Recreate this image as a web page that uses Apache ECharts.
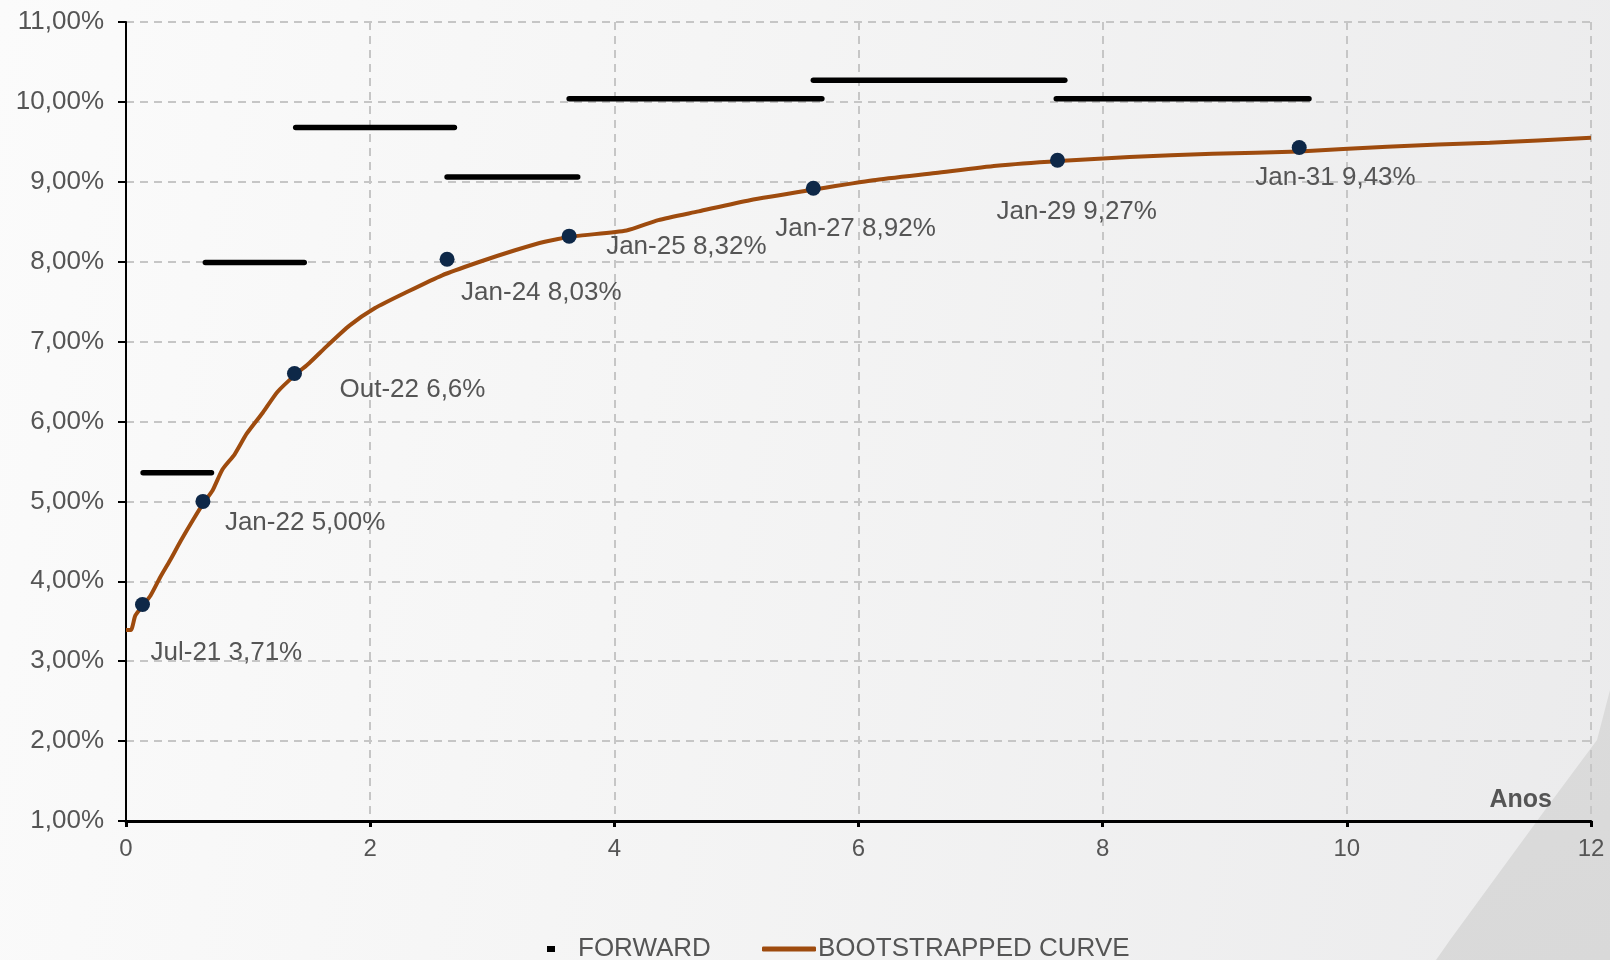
<!DOCTYPE html>
<html><head><meta charset="utf-8">
<script src="https://cdn.jsdelivr.net/npm/echarts@6/dist/echarts.min.js"></script>
<style>
html,body{margin:0;padding:0;width:1610px;height:960px;overflow:hidden;}
body{background:linear-gradient(100deg,#fbfbfb 0%,#f5f5f5 40%,#ebebec 100%);position:relative;}
#wedge{position:absolute;left:0;top:0;width:1610px;height:960px;background:linear-gradient(160deg,#e4e4e4,#d9d9d9);clip-path:polygon(1610px 690px,1597px 740px,1545px 810px,1450px 940px,1436px 960px,1610px 960px);}
#chart{position:absolute;left:0;top:0;width:1610px;height:960px;}
</style></head><body><div id="wedge"></div><div id="chart"></div>
<script>
// ---- data ----
const pointYears  = [0.135, 0.63, 1.38, 2.63, 3.63, 5.63, 7.63, 9.61];
const pointRates  = [3.71, 5.00, 6.60, 8.03, 8.32, 8.92, 9.27, 9.43];
const pointLabels = ['Jul-21 3,71%','Jan-22 5,00%','Out-22 6,6%','Jan-24 8,03%','Jan-25 8,32%','Jan-27 8,92%','Jan-29 9,27%','Jan-31 9,43%'];

const fwdStart = [0.14, 0.65, 1.39, 2.63, 3.63, 5.63, 7.62];
const fwdEnd   = [0.70, 1.46, 2.69, 3.70, 5.70, 7.69, 9.69];
const fwdRate  = [5.36, 7.99, 9.68, 9.06, 10.04, 10.27, 10.04];

const curveYears = [0, 0.04, 0.076, 0.135, 0.20, 0.28, 0.36, 0.45, 0.55, 0.64, 0.71, 0.79, 0.89, 0.99, 1.12, 1.24, 1.39, 1.50, 1.65, 1.83, 2.04, 2.30, 2.59, 2.88, 3.18, 3.43, 3.68, 4.10, 4.36, 4.69, 5.11, 5.62, 6.12, 6.63, 7.13, 7.64, 8.22, 8.90, 9.61, 10.33, 11.17, 12.0];
const curveRates = [3.39, 3.39, 3.57, 3.69, 3.82, 4.05, 4.26, 4.51, 4.77, 4.99, 5.14, 5.40, 5.59, 5.85, 6.11, 6.37, 6.59, 6.73, 6.95, 7.20, 7.42, 7.62, 7.83, 7.99, 8.14, 8.25, 8.32, 8.39, 8.52, 8.63, 8.77, 8.90, 9.02, 9.11, 9.20, 9.26, 9.31, 9.35, 9.38, 9.44, 9.49, 9.55];

const xTicks = {min: 0, max: 12, interval: 2};
const yTicks = {min: 1, max: 11, interval: 1};
const xAxisName = 'Anos';
const seriesNames = ['FORWARD', 'BOOTSTRAPPED CURVE'];

// ---- style (label offsets in px) ----
const labelOffsets = [[8,48],[22,21],[45,16],[14,34],[37,11],[-38,41],[-61,52],[-44,30]];

const FONT = "'Liberation Sans', Arial, sans-serif";
const GREY = '#555555';

const chart = echarts.init(document.getElementById('chart'), null, {renderer: 'canvas'});

const option = {
  backgroundColor: 'transparent',
  animation: false,
  grid: {left: 126, right: 19, top: 22, bottom: 139, containLabel: false},
  xAxis: {
    type: 'value', min: xTicks.min, max: xTicks.max, interval: xTicks.interval,
    name: xAxisName, nameLocation: 'end', nameGap: -39,
    nameTextStyle: {fontFamily: FONT, fontSize: 25, fontWeight: 'bold', color: GREY, align: 'right', verticalAlign: 'bottom', padding: [0,0,8,0]},
    axisLine: {show: true, onZero: false, lineStyle: {color: '#000', width: 3}},
    axisTick: {show: true, length: 6, lineStyle: {color: '#000', width: 3}},
    axisLabel: {fontFamily: FONT, fontSize: 24, color: GREY, margin: 16},
    splitLine: {show: true, lineStyle: {color: '#c6c6c6', width: 2, type: [8,6]}}
  },
  yAxis: {
    type: 'value', min: yTicks.min, max: yTicks.max, interval: yTicks.interval,
    axisLine: {show: true, lineStyle: {color: '#000', width: 2}},
    axisTick: {show: true, length: 8, lineStyle: {color: '#000', width: 2}},
    axisLabel: {fontFamily: FONT, fontSize: 26, color: GREY, margin: 22,
      formatter: v => v.toFixed(2).replace('.', ',') + '%'},
    splitLine: {show: true, lineStyle: {color: '#c6c6c6', width: 2, type: [8,6]}}
  },
  legend: [
    {data: [{name: seriesNames[0], icon: 'rect'}], left: 542, top: 931, itemWidth: 8, itemHeight: 6,
      itemStyle: {color: '#000'},
      textStyle: {fontFamily: FONT, fontSize: 26, color: GREY, padding: [0,0,0,18]}},
    {data: [{name: seriesNames[1], icon: 'roundRect'}], left: 757, top: 931, itemWidth: 54, itemHeight: 5,
      itemStyle: {color: '#9e4b0e'},
      textStyle: {fontFamily: FONT, fontSize: 26, color: GREY, padding: [0,0,0,-3]}}
  ],
  series: [
    {
      name: seriesNames[0], type: 'custom',
      encode: {x: [0, 1], y: 2},
      data: fwdStart.map((s, i) => [s, fwdEnd[i], fwdRate[i]]),
      itemStyle: {color: '#000'},
      renderItem: function (params, api) {
        const s = api.coord([api.value(0), api.value(2)]);
        const e = api.coord([api.value(1), api.value(2)]);
        return {type: 'line', shape: {x1: s[0], y1: s[1], x2: e[0], y2: e[1]},
          style: {stroke: '#000', lineWidth: 5.5, lineCap: 'round'}};
      },
      z: 3
    },
    {
      name: seriesNames[1], type: 'line',
      data: curveYears.map((x, i) => [x, curveRates[i]]),
      showSymbol: false, symbol: 'none', smooth: 0.2,
      lineStyle: {color: '#9e4b0e', width: 4},
      itemStyle: {color: '#9e4b0e'},
      z: 4
    },
    {
      name: 'points', type: 'scatter',
      data: pointYears.map((x, i) => ({
        value: [x, pointRates[i]],
        label: {offset: labelOffsets[i]}
      })),
      symbolSize: 15,
      itemStyle: {color: '#0e2848', opacity: 1},
      label: {
        show: true, position: 'inside', align: 'left', verticalAlign: 'middle',
        fontFamily: FONT, fontSize: 26, color: GREY,
        formatter: p => pointLabels[p.dataIndex]
      },
      z: 5
    }
  ]
};
chart.setOption(option);
</script></body></html>
